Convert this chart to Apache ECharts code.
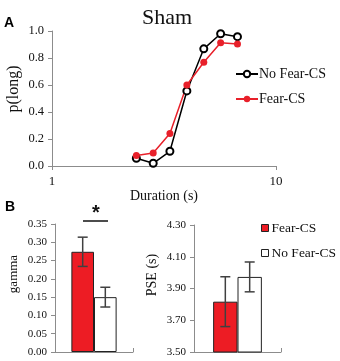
<!DOCTYPE html>
<html>
<head>
<meta charset="utf-8">
<script src="https://cdn.jsdelivr.net/npm/echarts@6/dist/echarts.min.js"></script>
<style>
  html, body { margin: 0; padding: 0; background: #fff; }
  #main { width: 340px; height: 361px; }
</style>
</head>
<body>
<div id="main"></div>
<script>
// panel A: psychometric curves
const durations = [2.38, 2.83, 3.36, 4.0, 4.76, 5.66, 6.73]
const noFearLong = [0.057, 0.02, 0.109, 0.556, 0.868, 0.98, 0.958]
const fearLong = [0.077, 0.097, 0.241, 0.6, 0.769, 0.913, 0.903]

// panel B: gamma and PSE, [Fear-CS, No Fear-CS]
const groups = ['Fear-CS', 'No Fear-CS']
const gammaMean = [0.274, 0.15]
const gammaErr = [0.04, 0.027]
const pseMean = [3.817, 3.973]
const pseErr = [0.157, 0.094]

const serif = 'Liberation Serif'
const axisGray = '#8c8c8c'
const red = '#ed1c24'

const chart = echarts.init(document.getElementById('main'), null, { renderer: 'canvas' })

function pairs(xs, ys) {
  return xs.map((x, i) => [x, ys[i]])
}

function valueAxis(gridIndex, min, max, interval, digits, size) {
  return {
    type: 'value', gridIndex, min, max, interval,
    axisLine: { show: true, lineStyle: { color: axisGray } },
    axisTick: { show: true, length: 4, lineStyle: { color: axisGray } },
    splitLine: { show: false },
    axisLabel: {
      fontFamily: serif, fontSize: size, color: '#111', margin: 8,
      formatter: v => v.toFixed(digits)
    }
  }
}

function catAxis(gridIndex) {
  return {
    type: 'category', gridIndex, data: ['x'],
    axisLine: { lineStyle: { color: axisGray } },
    axisTick: { show: true, inside: true, length: 4, lineStyle: { color: axisGray } },
    axisLabel: { show: false }
  }
}

// error bar drawn over the bar of the given group (0 = left bar, 1 = right bar)
function errorSeries(name, axisIdx, means, errs, barFrac) {
  return {
    type: 'custom',
    name: name + '-err',
    xAxisIndex: axisIdx,
    yAxisIndex: axisIdx,
    z: 5,
    silent: true,
    data: means.map((m, i) => [i, m, errs[i]]),
    renderItem: function (params, api) {
      const i = api.value(0)
      const m = api.value(1)
      const e = api.value(2)
      const catW = api.size([1, 0])[0]
      const half = catW * barFrac / 2
      const top = api.coord([0, m + e])
      const bot = api.coord([0, m - e])
      const x = top[0] + (i === 0 ? -half : half)
      const cap = 5
      const style = { stroke: '#404040', lineWidth: 1.5 }
      return {
        type: 'group',
        children: [
          { type: 'line', shape: { x1: x, y1: top[1], x2: x, y2: bot[1] }, style },
          { type: 'line', shape: { x1: x - cap, y1: top[1], x2: x + cap, y2: top[1] }, style },
          { type: 'line', shape: { x1: x - cap, y1: bot[1], x2: x + cap, y2: bot[1] }, style }
        ]
      }
    }
  }
}

function barSeries(name, axisIdx, value, fill, width) {
  return {
    type: 'bar',
    name,
    xAxisIndex: axisIdx,
    yAxisIndex: axisIdx,
    data: [value],
    barWidth: width,
    barGap: '0%',
    itemStyle: { color: fill, borderColor: '#222', borderWidth: 1 }
  }
}

const option = {
  backgroundColor: '#fff',
  animation: false,
  title: {
    text: 'Sham',
    left: 162,
    textAlign: 'center',
    top: 2,
    textStyle: { fontFamily: serif, fontSize: 22, fontWeight: 'normal', color: '#111' }
  },
  legend: [
    {
      orient: 'vertical',
      left: 230,
      top: 62,
      itemGap: 11,
      itemWidth: 22,
      itemHeight: 8,
      data: ['No Fear-CS', 'Fear-CS'],
      textStyle: { fontFamily: serif, fontSize: 14, color: '#111', padding: [0, 0, 0, -4] },
      selectedMode: false
    },
    {
      orient: 'vertical',
      left: 256,
      top: 216,
      itemGap: 11,
      itemWidth: 7,
      itemHeight: 7,
      data: [
        { name: 'Fear-CS', icon: 'rect', itemStyle: { color: red, borderColor: '#222', borderWidth: 1 } },
        { name: 'No Fear-CS', icon: 'rect', itemStyle: { color: '#fff', borderColor: '#222', borderWidth: 1 } }
      ],
      textStyle: { fontFamily: serif, fontSize: 13.5, color: '#111', padding: [0, 0, 0, -2] },
      selectedMode: false
    }
  ],
  grid: [
    { left: 52, top: 31, width: 224, height: 135 },
    { left: 55, top: 224, width: 78, height: 128 },
    { left: 194, top: 225, width: 87, height: 127 }
  ],
  xAxis: [
    {
      type: 'log', gridIndex: 0, logBase: 10, min: 1, max: 10,
      axisLine: { lineStyle: { color: axisGray } },
      axisTick: { show: true, length: 4, lineStyle: { color: axisGray } },
      splitLine: { show: false },
      minorTick: { show: false },
      axisLabel: { fontFamily: serif, fontSize: 13, color: '#111', margin: 9 },
      name: 'Duration (s)',
      nameLocation: 'middle',
      nameGap: 17,
      nameTextStyle: { fontFamily: serif, fontSize: 14, color: '#111' }
    },
    catAxis(1),
    catAxis(2)
  ],
  yAxis: [
    valueAxis(0, 0, 1, 0.2, 1, 12.5),
    valueAxis(1, 0, 0.35, 0.05, 2, 11),
    valueAxis(2, 3.5, 4.3, 0.2, 2, 11)
  ],
  graphic: [
    { type: 'text', left: 4, top: 16, style: { text: 'A', font: 'bold 14px "Liberation Sans"', fill: '#000' } },
    { type: 'text', left: 5, top: 200, style: { text: 'B', font: 'bold 14px "Liberation Sans"', fill: '#000' } },
    { type: 'text', x: 14, y: 89, rotation: Math.PI / 2,
      style: { text: 'p(long)', font: '16px "Liberation Serif"', fill: '#111', align: 'center', verticalAlign: 'middle' } },
    { type: 'text', x: 13.5, y: 274, rotation: Math.PI / 2,
      style: { text: 'gamma', font: '13px "Liberation Serif"', fill: '#111', align: 'center', verticalAlign: 'middle' } },
    { type: 'text', x: 152, y: 275, rotation: Math.PI / 2,
      style: { text: 'PSE (s)', font: '14px "Liberation Serif"', fill: '#111', align: 'center', verticalAlign: 'middle' } },
    { type: 'line', shape: { x1: 83, y1: 221, x2: 108, y2: 221 }, style: { stroke: '#111', lineWidth: 1.5 } },
    { type: 'text', x: 96, y: 213, style: { text: '*', font: 'bold 20px "Liberation Sans"', fill: '#111', align: 'center', verticalAlign: 'middle' } }
  ],
  series: [
    {
      type: 'line',
      name: 'No Fear-CS',
      xAxisIndex: 0, yAxisIndex: 0,
      data: pairs(durations, noFearLong),
      symbol: 'emptyCircle',
      symbolSize: 7,
      lineStyle: { color: '#000', width: 1.5 },
      itemStyle: { color: '#000', borderColor: '#000', borderWidth: 1 }
    },
    {
      type: 'line',
      name: 'Fear-CS',
      xAxisIndex: 0, yAxisIndex: 0,
      data: pairs(durations, fearLong),
      symbol: 'circle',
      symbolSize: 7,
      lineStyle: { color: '#e8202a', width: 1.5 },
      itemStyle: { color: '#e8202a' }
    },
    barSeries(groups[0], 1, gammaMean[0], red, '29%'),
    barSeries(groups[1], 1, gammaMean[1], '#fff', '29%'),
    errorSeries('gamma', 1, gammaMean, gammaErr, 0.29),
    barSeries(groups[0], 2, pseMean[0], red, '28%'),
    barSeries(groups[1], 2, pseMean[1], '#fff', '28%'),
    errorSeries('pse', 2, pseMean, pseErr, 0.28)
  ]
}

chart.setOption(option)
</script>
</body>
</html>
